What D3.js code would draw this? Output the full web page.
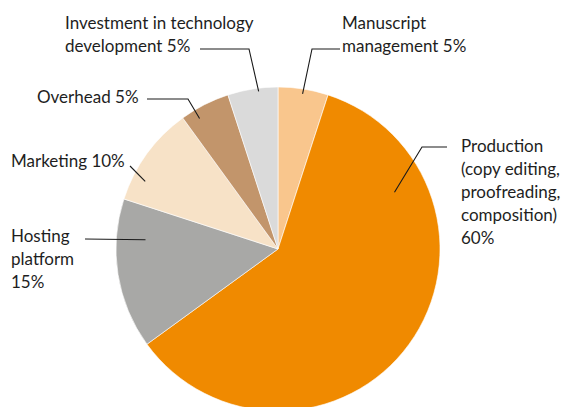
<!doctype html>
<html>
<head>
  <style type="text/css">
    body { margin: 0; background: #fff; }
    svg { display: block; }
    text {
      font-family: Lato, "Open Sans", sans-serif;
      font-size: 17px;
      fill: #1e1e1e;
    }
    .leader { fill: none; stroke: #1a1a1a; stroke-width: 1.1; }
  </style>
  <title>Cost breakdown</title>
</head>
<body>
<svg class="chart"></svg>

<script type="text/javascript" src="https://cdnjs.cloudflare.com/ajax/libs/d3/7.8.5/d3.min.js"></script>
<script type="text/javascript">

// data, clockwise from 12 o'clock
var categories = ["Manuscript management", "Production", "Hosting platform",
                  "Marketing", "Overhead", "Investment in technology development"];
var shares = [5, 60, 15, 10, 5, 5];
var labelLines = [
  ["Manuscript", "management 5%"],
  ["Production", "(copy editing,", "proofreading,", "composition)", "60%"],
  ["Hosting", "platform", "15%"],
  ["Marketing 10%"],
  ["Overhead 5%"],
  ["Investment in technology", "development 5%"]
];
var colors = ["#f9c68d", "#f08a00", "#a8a8a6", "#f7e2c7", "#c2956b", "#dadada"];

var width = 566, height = 407,
    cx = 278, cy = 249, radius = 162,
    lineHeight = 23;

// label placement: text anchor, leader elbow, and where the leader touches the slice
// (angle in degrees clockwise from top, radius fraction)
var layout = [
  { x: 342, y: 29,  line: [[340, 49], [312, 49]],   tip: [9, 0.97] },
  { x: 461, y: 152, line: [[447, 147], [422, 147]], tip: [64, 0.80] },
  { x: 11,  y: 242, line: [[85, 239]],              tip: [274, 0.82] },
  { x: 11,  y: 167, line: [[130, 166]],             tip: [297, 0.92] },
  { x: 37,  y: 103, line: [[147, 99], [188, 99]],   tip: [329, 0.94] },
  { x: 65,  y: 29,  line: [[200, 49], [249, 49]],   tip: [353, 0.98] }
];

var svg = d3.select(".chart")
  .attr("width", width)
  .attr("height", height);

var pie = d3.pie().sort(null).value(function(d) { return d; });
var arc = d3.arc().innerRadius(0).outerRadius(radius);

var slices = pie(shares);

var g = svg.append("g").attr("transform", "translate(" + cx + "," + cy + ")");

g.selectAll("path")
  .data(slices)
  .enter().append("path")
    .attr("d", arc)
    .attr("fill", function(d, i) { return colors[i]; })
    .attr("stroke", "#fff")
    .attr("stroke-width", 0.6);

function polar(deg, frac) {
  var a = deg * Math.PI / 180;
  return [cx + Math.sin(a) * radius * frac, cy - Math.cos(a) * radius * frac];
}

// leader lines
svg.selectAll(".leader")
  .data(layout)
  .enter().append("path")
    .attr("class", "leader")
    .attr("d", function(d) {
      var pts = d.line.concat([polar(d.tip[0], d.tip[1])]);
      return d3.line()(pts);
    });

// labels
var labels = svg.selectAll(".label")
  .data(layout)
  .enter().append("text")
    .attr("class", "label")
    .attr("x", function(d) { return d.x; })
    .attr("y", function(d) { return d.y; });

labels.each(function(d, i) {
  d3.select(this).selectAll("tspan")
    .data(labelLines[i])
    .enter().append("tspan")
      .attr("x", d.x)
      .attr("dy", function(t, j) { return j === 0 ? 0 : lineHeight; })
      .text(function(t) { return t; });
});

</script>
</body>
</html>
